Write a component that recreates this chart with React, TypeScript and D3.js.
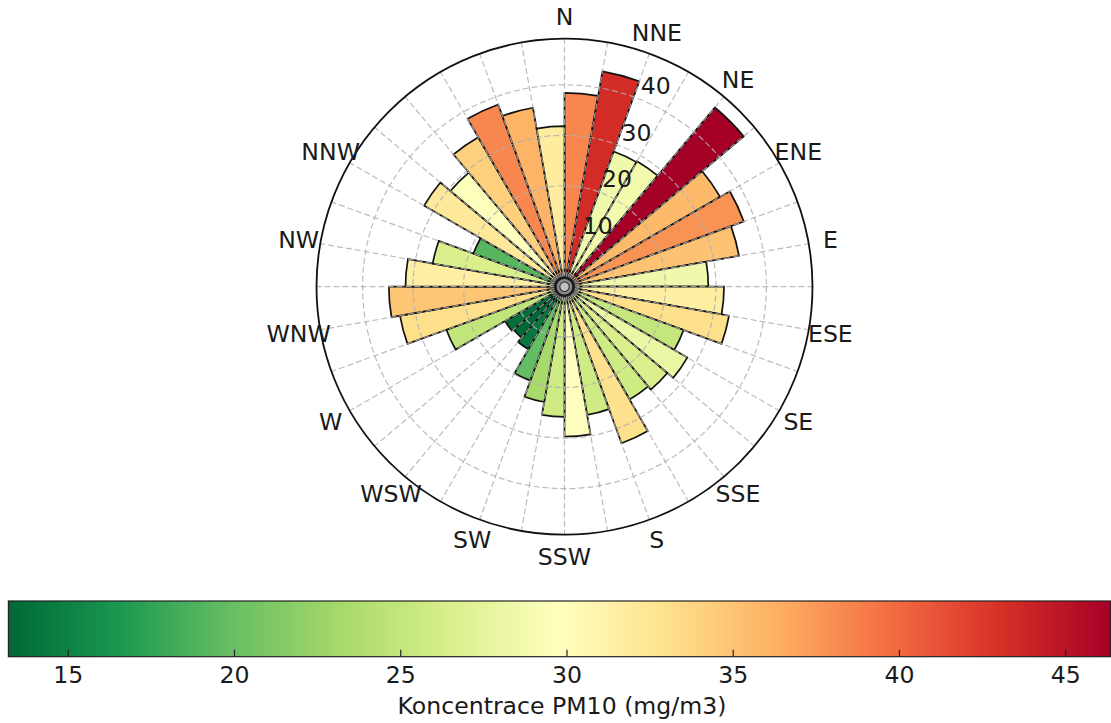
import React from "react";
import * as d3 from "d3";

// 36 sectors of 10 degrees, clockwise from north
const values: number[] = [
  38.4, 43.3, 28.5, 28.7, 46.35, 35.6, 37.8, 35.1, 28.5, 31.6, 33.1, 25.1,
  28.1, 26.6, 25.8, 33.0, 25.8, 29.7, 25.8, 23.2, 19.8, 14.3, 13.2, 13.6,
  24.9, 33.1, 34.8, 31.5, 26.5, 19.2, 32.1, 29.5, 34.2, 38.4, 36.0, 31.8,
];

const directionLabels: string[] = [
  "N", "NNE", "NE", "ENE", "E", "ESE", "SE", "SSE",
  "S", "SSW", "SW", "WSW", "W", "WNW", "NW", "NNW",
];

const radialTicks: number[] = [10, 20, 30, 40];
const colorbarTicks: number[] = [15, 20, 25, 30, 35, 40, 45];
const colorbarLabel = "Koncentrace PM10 (mg/m3)";

const rdylgn: string[] = [
  "#a50026", "#d73027", "#f46d43", "#fdae61", "#fee08b", "#ffffbf",
  "#d9ef8b", "#a6d96a", "#66bd63", "#1a9850", "#006837",
];

const W = 1111;
const H = 723;
const cx = 564.5;
const cy = 286.7;
const outerR = 248;
const FONT = "DejaVu Sans, sans-serif";
const FS = 23.6;

export default function App() {
  const vmin = d3.min(values) as number;
  const vmax = d3.max(values) as number;
  const rmax = vmax * 1.06;
  const r = d3.scaleLinear().domain([0, rmax]).range([0, outerR]);

  const cmapReversed = rdylgn.slice().reverse();
  const color = d3
    .scaleLinear<string>()
    .domain(d3.range(11).map((i) => vmin + ((vmax - vmin) * i) / 10))
    .range(cmapReversed)
    .interpolate(d3.interpolateRgb)
    .clamp(true);

  const step = (2 * Math.PI) / values.length;
  const arc = d3.arc<any>();

  const bars = values.map((v, i) =>
    arc({
      innerRadius: 0,
      outerRadius: r(v),
      startAngle: i * step,
      endAngle: (i + 1) * step,
    })
  );

  const cbLeft = 8.4;
  const cbRight = 1110.6;
  const cbTop = 601;
  const cbBottom = 656.7;
  const cbx = d3.scaleLinear().domain([vmin, vmax]).range([cbLeft, cbRight]);

  const labelAngleStep = (20 * Math.PI) / 180;
  const rlabelAngle = (22.5 * Math.PI) / 180;

  return (
    <svg
      width={W}
      height={H}
      style={{ position: "absolute", left: 0, top: 0, background: "#fff" }}
      fontFamily={FONT}
    >
      <defs>
        <linearGradient id="cbgrad" x1="0" x2="1" y1="0" y2="0">
          {cmapReversed.map((c, i) => (
            <stop key={i} offset={`${i * 10}%`} stopColor={c} />
          ))}
        </linearGradient>
      </defs>
      <rect x={0} y={0} width={W} height={H} fill="#fff" />

      <g transform={`translate(${cx},${cy})`}>
        {bars.map((d, i) => (
          <path
            key={i}
            d={d as string}
            fill={color(values[i])}
            stroke="#111"
            strokeWidth={1.7}
            strokeLinejoin="miter"
          />
        ))}
        {radialTicks.map((t) => (
          <circle
            key={t}
            r={r(t)}
            fill="none"
            stroke="#b0b0b0"
            strokeOpacity={0.85}
            strokeWidth={1.2}
            strokeDasharray="6,3"
          />
        ))}
        {values.map((_, i) => {
          const a = i * step;
          return (
            <line
              key={i}
              x1={0}
              y1={0}
              x2={outerR * Math.sin(a)}
              y2={-outerR * Math.cos(a)}
              stroke="#b0b0b0"
              strokeOpacity={0.85}
              strokeWidth={1.2}
              strokeDasharray="6,3"
            />
          );
        })}
        <circle r={outerR} fill="none" stroke="#111" strokeWidth={1.8} />
        <circle r={10.5} fill="#1a1a1a" />
        <circle r={7.8} fill="#8a8a8a" />
        <circle r={5.2} fill="#2a2a2a" />
        <circle r={4.2} fill="#c2c2c2" />

        {radialTicks.map((t) => {
          const px = r(t) * Math.sin(rlabelAngle);
          const py = -r(t) * Math.cos(rlabelAngle);
          return (
            <text
              key={t}
              x={px + 14}
              y={py - 14}
              textAnchor="middle"
              dominantBaseline="central"
              fontSize={FS}
              fill="#1a1a1a"
            >
              {t}
            </text>
          );
        })}

        {directionLabels.map((lab, i) => {
          const a = i * labelAngleStep;
          return (
            <text
              key={lab}
              x={270 * Math.sin(a)}
              y={-270 * Math.cos(a)}
              textAnchor="middle"
              dominantBaseline="central"
              fontSize={FS}
              fill="#1a1a1a"
            >
              {lab}
            </text>
          );
        })}
      </g>

      <rect
        x={cbLeft}
        y={cbTop}
        width={cbRight - cbLeft}
        height={cbBottom - cbTop}
        fill="url(#cbgrad)"
        stroke="#222"
        strokeWidth={1.2}
      />
      {colorbarTicks.map((t) => (
        <g key={t}>
          <line
            x1={cbx(t)}
            x2={cbx(t)}
            y1={cbBottom}
            y2={cbBottom - 7}
            stroke="#222"
            strokeWidth={1.2}
          />
          <text
            x={cbx(t)}
            y={674.5}
            textAnchor="middle"
            dominantBaseline="central"
            fontSize={FS}
            fill="#1a1a1a"
          >
            {t}
          </text>
        </g>
      ))}
      <text
        x={562}
        y={705.5}
        textAnchor="middle"
        dominantBaseline="central"
        fontSize={FS}
        fill="#1a1a1a"
      >
        {colorbarLabel}
      </text>
    </svg>
  );
}
